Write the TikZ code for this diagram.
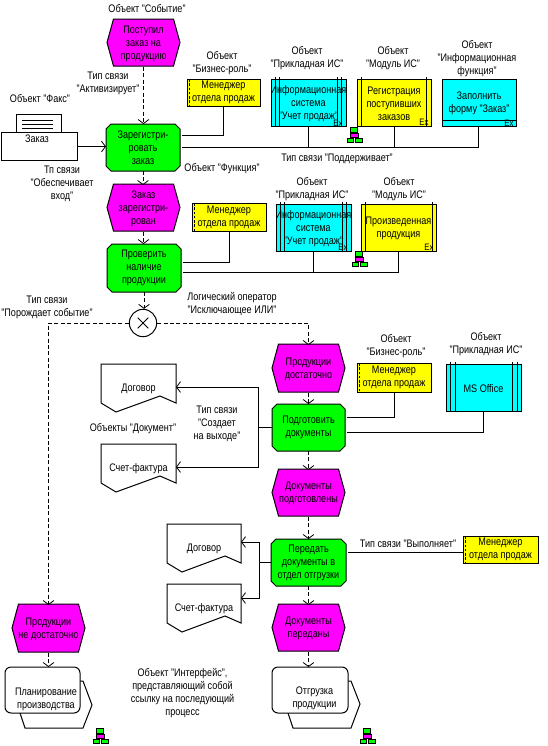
\documentclass[tikz,border=0pt]{standalone}
\usepackage{fontspec}
\setmainfont[FakeStretch=0.83]{Liberation Sans}
\usetikzlibrary{arrows.meta}
\definecolor{evc}{RGB}{255,0,255}
\definecolor{fnc}{RGB}{0,255,0}
\definecolor{ylw}{RGB}{255,255,0}
\definecolor{cyn}{RGB}{0,255,255}
\tikzset{
  base/.style={inner sep=0pt,outer sep=0pt,align=center,font=\fontsize{8.2}{9.75}\selectfont},
  lbl/.style={base},
  cell/.style={base,draw=none},
  ln/.style={line width=0.75pt,draw=black},
  con/.style={line width=0.75pt,draw=black,-{Straight Barb[length=3pt,width=8pt,line width=0.6pt]}},
  flow/.style={con,dash pattern=on 3pt off 1.8pt},
  plainln/.style={line width=0.75pt,draw=black},
  dn/.style={yshift=-#1*0.75pt},
  exmark/.style={inner sep=0pt,font=\fontsize{7}{7}\selectfont},
}
% event hexagon
\newcommand\evt[6]{%
  \filldraw[ln,fill=evc] (#2+6.5,#3)--(#4-6.5,#3)--(#4,{(#3+#5)/2})--(#4-6.5,#5)--(#2+6.5,#5)--(#2,{(#3+#5)/2})--cycle;
  \node[cell,minimum width={(#4-#2)*0.75pt},minimum height={(#5-#3)*0.75pt},yshift=-0.75pt] (#1) at ({(#2+#4)/2},{(#3+#5)/2}) {#6};}
% function, chamfered box
\newcommand\fnc[6]{%
  \filldraw[ln,fill=fnc] (#2+5,#3)--(#4-5,#3)--(#4,#3+5)--(#4,#5-5)--(#4-5,#5)--(#2+5,#5)--(#2,#5-5)--(#2,#3+5)--cycle;
  \node[cell,minimum width={(#4-#2)*0.75pt},minimum height={(#5-#3)*0.75pt}] (#1) at ({(#2+#4)/2},{(#3+#5)/2}) {#6};}
% rectangle with inner vertical lines (absolute x list)
\newcommand\rb[8]{%
  \filldraw[ln,fill=#6] (#2,#3) rectangle (#4,#5);
  \foreach \lx in {#8}{\draw[ln] (\lx,#3-2) -- (\lx,#5);}
  \node[cell,minimum width={(#4-#2)*0.75pt},minimum height={(#5-#3)*0.75pt},yshift=-0.75pt] (#1) at ({(#2+#4)/2},{(#3+#5)/2}) {#7};}
% business role
\newcommand\role[6]{%
  \filldraw[ln,fill=ylw] (#2,#3) rectangle (#4,#5);
  \draw[line width=0.75pt,dash pattern=on 2pt off 1.2pt] (#2+2,#3) -- (#2+2,#5);
  \node[cell,minimum width={(#4-#2)*0.75pt},minimum height={(#5-#3)*0.75pt}] (#1) at ({(#2+#4)/2},{(#3+#5)/2}) {#6};}
% document: name, x1, ytop, x2, text, text y
\newcommand\docu[6]{%
  \filldraw[ln,fill=white] (#2,#3)--(#4,#3)--(#4,#3+39)--(#4-16,#3+32)--(#2+15,#3+48)--(#2,#3+39)--cycle;
  \node[cell,minimum width={(#4-#2)*0.75pt}] (#1) at ({(#2+#4)/2},#6) {#5};}
% small hierarchy icon
\newcommand\hicon[2]{%
  \draw[line width=0.75pt] (#1,#2+5)--(#1,#2+8) (#1-3.5,#2+10)--(#1-3.5,#2+12) (#1+4,#2+10)--(#1+4,#2+12);
  \filldraw[ln,fill=fnc] (#1-3.5,#2) rectangle (#1+3.5,#2+5);
  \filldraw[ln,fill=evc] (#1-4,#2+6) rectangle (#1+4,#2+10);
  \filldraw[ln,fill=fnc] (#1-7,#2+11) rectangle (#1-1,#2+15.5);
  \filldraw[ln,fill=fnc] (#1+1,#2+11) rectangle (#1+8,#2+15.5);}
\begin{document}
\begin{tikzpicture}[x=0.75pt,y=-0.75pt]
\useasboundingbox (0,0) rectangle (547,746);
\fill[white] (0,0) rectangle (547,746);

% ---------- fax
\filldraw[ln,fill=white] (16,114) rectangle (61,132);
\draw[ln] (22,120)--(53,120) (22,124)--(53,124) (22,128)--(53,128);
\filldraw[ln,fill=white] (1,132) rectangle (77,160);
\node[cell,minimum width=57pt,minimum height=21pt] (fax) at (39,146.5) {};
\node[lbl] (faxt) at (37,139) {Заказ};

% ---------- events and functions
\evt{e1}{107}{19}{180}{66}{Поступил\\заказ на\\продукцию}
\fnc{f1}{106}{124}{180}{171}{Зарегистри-\\ровать\\заказ}
\evt{e2}{107}{184}{180}{231}{Заказ\\зарегистри-\\рован}
\fnc{f2}{107}{244}{181}{292}{Проверить\\наличие\\продукции}
\evt{e3}{272}{344}{345}{392}{Продукции\\достаточно}
\fnc{f3}{272}{404}{345}{451}{Подготовить\\документы}
\evt{e4}{272}{469}{345}{516}{Документы\\подготовлены}
\fnc{f4}{271}{539}{346}{586}{Передать\\документы в\\отдел отгрузки}
\evt{e5}{272}{604}{345}{651}{Документы\\переданы}
\evt{e6}{12}{604}{85}{652}{Продукции\\не достаточно}

% ---------- roles
\role{r1}{187}{79}{260}{106}{Менеджер\\отдела продаж}
\role{r2}{192}{203}{266}{231}{Менеджер\\отдела продаж}
\role{r3}{357}{363}{431}{392}{Менеджер\\отдела продаж}
\role{r4}{463}{536}{538}{563}{Менеджер\\отдела продаж}

% ---------- systems
\rb{a1}{271}{79}{346}{126}{cyn}{Информационная\\система\\"Учет продаж"}{275,279,337,341}
\rb{m1}{357}{79}{431}{126}{ylw}{Регистрация\\поступивших\\заказов}{361,426}
\filldraw[ln,fill=cyn] (442,79) rectangle (516,126);
\draw[ln] (442,120)--(516,120);
\node[cell,minimum width=55.5pt,minimum height=30pt] (if1) at (479,103.5) {Заполнить\\форму "Заказ"};
\coordinate (ifs) at (478,126);
\rb{a2}{276}{204}{351}{251}{cyn}{Информационная\\система\\"Учет продаж"}{280,284,342,346}
\rb{m2}{361}{204}{436}{251}{ylw}{Произведенная\\продукция}{365,432}
\rb{ms}{446}{364}{521}{411}{cyn}{MS Office}{450,455,512,517}
\node[exmark] (x1) at (338,123) {Ex};
\node[exmark] (x2) at (424,122) {Ex};
\node[exmark] (x3) at (509,123) {Ex};
\node[exmark] (x4) at (343,247) {Ex};
\node[exmark] (x5) at (429,247) {Ex};

% ---------- documents
\docu{d1}{101}{364}{176}{Договор}{389}
\docu{d2}{101}{444}{176}{Счет-фактура}{469}
\docu{d3}{167}{524}{241}{Договор}{549}
\docu{d4}{167}{584}{241}{Счет-фактура}{609}

% ---------- process interfaces
\filldraw[ln,fill=white] (80,681)--(83,681)--(92,705)--(83,728)--(25,728)--(20,713)--cycle;
\filldraw[ln,fill=white,rounded corners=4.5pt] (5,667) rectangle (80,713);
\node[cell,minimum width=56pt,minimum height=34.5pt] (i1) at (42.5,690) {};
\node[lbl] (i1t) at (46,699.5) {Планирование\\производства};
\filldraw[ln,fill=white] (348,681)--(351,681)--(360,704)--(351,728)--(293,728)--(288,713)--cycle;
\filldraw[ln,fill=white,rounded corners=4.5pt] (272,667) rectangle (348,713);
\node[cell,minimum width=57pt,minimum height=34.5pt] (i2) at (310,690) {};
\node[lbl] (i2t) at (314.5,698.5) {Отгрузка\\продукции};

% ---------- XOR
\node[draw,line width=0.75pt,circle,minimum size=20.5pt,inner sep=0pt,fill=white] (xor) at (143,323) {};
\draw[ln] ([xshift=-4pt,yshift=-4pt]xor.center)--([xshift=4pt,yshift=4pt]xor.center);
\draw[ln] ([xshift=-4pt,yshift=4pt]xor.center)--([xshift=4pt,yshift=-4pt]xor.center);

% ---------- control flow
\draw[flow] (e1.south) -- (e1.south |- f1.north);
\draw[flow] (f1.south) -- (f1.south |- e2.north);
\draw[flow] (e2.south) -- (e2.south |- f2.north);
\draw[flow] (f2.south) -- (f2.south |- xor.north);
\draw[flow] (xor.west) -| (e6.north);
\draw[flow] (xor.east) -| (e3.north);
\draw[flow] (e3.south) -- (f3.north);
\draw[flow] (f3.south) -- (e4.north);
\draw[flow] (e4.south) -- (f4.north);
\draw[flow] (f4.south) -- (e5.north);
\draw[flow] (e5.south) -- (e5.south |- i2.north);
\draw[flow] (e6.south) -- (e6.south |- i1.north);

% ---------- data and organisation links
\draw[con] (fax.east) -- (fax.east -| f1.west);
\draw[plainln] ([dn=-12.5,xshift=1.5pt]f1.east) -| (r1.south);
\draw[plainln] ([xshift=1.5pt]f1.east) -| (ifs);
\draw[plainln] (a1.south) -- (a1.south |- f1.east);
\draw[plainln] (m1.south) -- (m1.south |- f1.east);
\draw[plainln] ([dn=-6,xshift=1.5pt]f2.east) -| (r2.south);
\draw[plainln] ([dn=4,xshift=1.5pt]f2.east) -| (m2.south);
\draw[plainln] (a2.south) -- ++(0,21);
\draw[plainln] ([dn=-10.5,xshift=1.5pt]f3.east) -| (r3.south);
\draw[plainln] ([dn=4.5,xshift=1.5pt]f3.east) -| (ms.south);
\draw[plainln] ([dn=-10.5,xshift=1.5pt]f4.east) -- ([dn=2.5]r4.west);
\draw[con] (f3.west) -- ++(-14,0) |- ([dn=-2]d1.east);
\draw[con] (f3.west) -- ++(-14,0) |- ([dn=-2]d2.east);
\draw[con] (f4.west) -- ++(-12,0) |- ([dn=-7]d3.east);
\draw[con] (f4.west) -- ++(-12,0) |- ([dn=-11]d4.east);

% ---------- icons
\hicon{354}{127}
\hicon{359}{251}
\hicon{100}{728}
\hicon{367}{728}

% ---------- annotations
\node[lbl] (t1) at (147,9) {Объект "Событие"};
\node[lbl] (t2) at (108,83.5) {Тип связи\\"Активизирует"};
\node[lbl] (t3) at (222,63.5) {Объект\\"Бизнес-роль"};
\node[lbl] (t4) at (40,99) {Объект "Факс"};
\node[lbl] (t5) at (62,183.5) {Тп связи\\"Обеспечивает\\вход"};
\node[lbl] (t6) at (222,169) {Объект "Функция"};
\node[lbl] (t7) at (307,58.5) {Объект\\"Прикладная ИС"};
\node[lbl] (t8) at (393,58.5) {Объект\\"Модуль ИС"};
\node[lbl] (t9) at (477,58.5) {Объект\\"Информационная\\функция"};
\node[lbl] (t10) at (337,159) {Тип связи "Поддерживает"};
\node[lbl] (t11) at (312,189) {Объект\\"Прикладная ИС"};
\node[lbl] (t12) at (399,189) {Объект\\"Модуль ИС"};
\node[lbl] (t13) at (47,307.5) {Тип связи\\"Порождает событие"};
\node[lbl] (t14) at (232,304) {Логический оператор\\"Исключающее ИЛИ"};
\node[lbl] (t15) at (396,346.5) {Объект\\"Бизнес-роль"};
\node[lbl] (t16) at (486,344.5) {Объект\\"Прикладная ИС"};
\node[lbl] (t17) at (217,423.5) {Тип связи\\"Создает\\на выходе"};
\node[lbl] (t18) at (133,429) {Объекты "Документ"};
\node[lbl] (t19) at (408,544) {Тип связи "Выполняет"};
\node[lbl] (t20) at (182.5,693.5) {Объект "Интерфейс",\\представляющий собой\\ссылку на последующий\\процесс};
\end{tikzpicture}
\end{document}
